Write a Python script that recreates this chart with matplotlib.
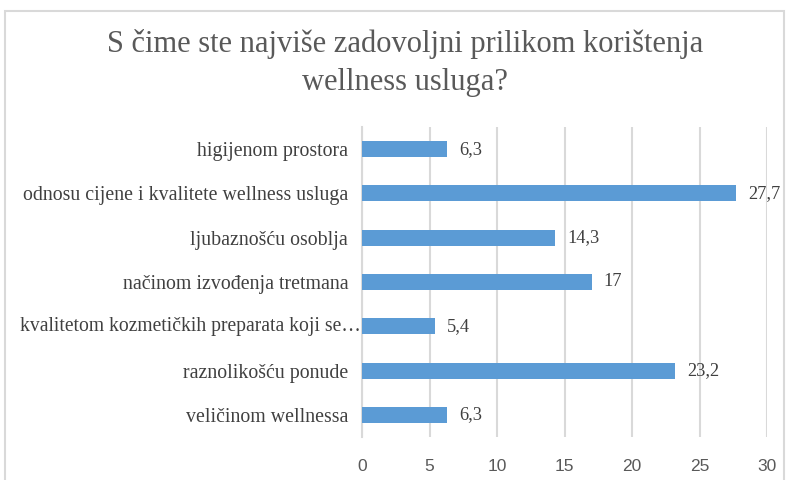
import matplotlib.pyplot as plt
from matplotlib.patches import Rectangle

# ========= data =========
categories = [
    "veličinom wellnessa",
    "raznolikošću ponude",
    "kvalitetom kozmetičkih preparata koji se…",
    "načinom izvođenja tretmana",
    "ljubaznošću osoblja",
    "odnosu cijene i kvalitete wellness usluga",
    "higijenom prostora",
]
values = [6.3, 23.2, 5.4, 17, 14.3, 27.7, 6.3]
value_labels = ["6,3", "23,2", "5,4", "17", "14,3", "27,7", "6,3"]
x_ticks = [0, 5, 10, 15, 20, 25, 30]

title = "S čime ste najviše zadovoljni prilikom korištenja\nwellness usluga?"

BAR_COLOR = "#5B9BD5"
TEXT_COLOR = "#595959"
GRID_COLOR = "#D9D9D9"

# ========= figure =========
fig = plt.figure(figsize=(7.87, 4.8), dpi=100)
ax = fig.add_axes([0.46, 0.0896, 0.5146, 0.6458])

# chart border
fig.patches.append(Rectangle((5 / 787, -0.05), 779 / 787, 1 - 11 / 480 + 0.05,
                             transform=fig.transFigure, fill=False,
                             edgecolor=GRID_COLOR, linewidth=1.5))

y_pos = list(range(len(categories)))
ax.barh(y_pos, values, height=0.36, color=BAR_COLOR, zorder=3)

for y, v, lab in zip(y_pos, values, value_labels):
    ax.text(v + 0.9, y, lab, va="center", ha="left", fontsize=13.2,
            family="Liberation Serif", color="#404040")

ax.set_xlim(0, 30)
ax.set_ylim(-0.5, len(categories) - 0.5)
ax.set_xticks(x_ticks)
ax.set_xticklabels([str(t) for t in x_ticks], fontsize=12.5,
                   family="Liberation Sans", color=TEXT_COLOR)
ax.set_yticks(y_pos)
# truncated label runs right up to the axis, so draw it separately
ylabels = [c if not c.endswith("…") else "" for c in categories]
ax.set_yticklabels(ylabels, fontsize=14.3, family="Liberation Serif",
                   color="#404040")
for y, c in zip(y_pos, categories):
    if c.endswith("…"):
        ax.text(-0.004, y, c, ha="right", va="center", fontsize=14.1,
                family="Liberation Serif", color="#404040",
                transform=ax.get_yaxis_transform(), clip_on=False)
ax.tick_params(axis="both", length=0)
ax.tick_params(axis="y", pad=10)
ax.tick_params(axis="x", pad=16)

ax.grid(axis="x", color=GRID_COLOR, linewidth=1.5, zorder=0)
for s in ["top", "right", "bottom"]:
    ax.spines[s].set_visible(False)
ax.spines["left"].set_color(GRID_COLOR)
ax.spines["left"].set_linewidth(1.5)

fig.text(405 / 787, 1 - 63 / 480, title, ha="center", va="center",
         fontsize=22, family="Liberation Serif", color=TEXT_COLOR,
         linespacing=1.42)

plt.savefig("out.png", dpi=100)
